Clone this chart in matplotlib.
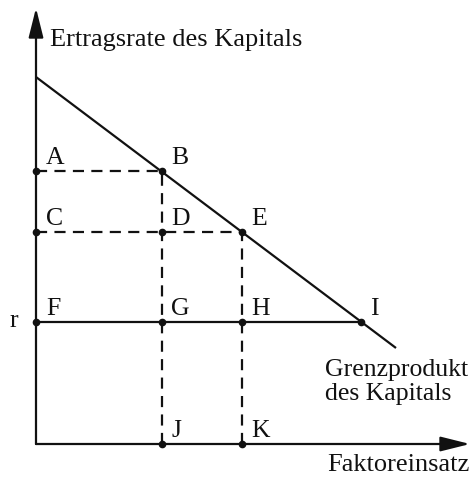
import numpy as np
import matplotlib as mpl
mpl.use('Agg')
import matplotlib.pyplot as plt

#%% Daten (Einheiten: Achsenabstand in Pixeln des Originals)
mpk_x = [0, 360]          # Grenzprodukt des Kapitals, Anfang/Ende
mpk_y = [367, 96]
niveau_A = 273            # Ertragsrate bei A/B
niveau_C = 212            # Ertragsrate bei C/D/E
niveau_r = 122            # Zinssatz r
x_J = 126                 # Faktoreinsatz bei J
x_K = 206                 # Faktoreinsatz bei K
x_I = 325

punkte_x = [0, x_J, 0, x_J, x_K, 0, x_J, x_K, x_I, x_J, x_K]
punkte_y = [niveau_A, niveau_A, niveau_C, niveau_C, niveau_C,
            niveau_r, niveau_r, niveau_r, niveau_r, 0, 0]
namen = ['A', 'B', 'C', 'D', 'E', 'F', 'G', 'H', 'I', 'J', 'K']

#%% Grafik
mpl.rcParams['font.family'] = 'Liberation Serif'
fig = plt.figure(figsize=(4.71, 4.78), dpi=100)
ax = fig.add_axes([0, 0, 1, 1])
ax.set_xlim(-36, 435)
ax.set_ylim(-34, 444)
ax.axis('off')

lw = 1.6
fs = 18.5
schwarz = '#111111'

# Achsen mit Pfeilen
pfeil = dict(arrowstyle='-|>,head_length=1.8,head_width=0.45',
             mutation_scale=10, color=schwarz, lw=lw, shrinkA=0, shrinkB=0)
ax.annotate('', xy=(0, 436), xytext=(0, 0), arrowprops=pfeil)
ax.annotate('', xy=(434, 0), xytext=(0, 0), arrowprops=pfeil)

# Grenzprodukt
ax.plot(mpk_x, mpk_y, color=schwarz, lw=lw, solid_capstyle='butt')

# gestrichelte Hilfslinien
strich = dict(color=schwarz, lw=lw, ls=(0, (5, 3.3)))
ax.plot([0, x_J], [niveau_A, niveau_A], **strich)
ax.plot([x_J, x_J], [0, niveau_A], **strich)
ax.plot([0, x_K], [niveau_C, niveau_C], **strich)
ax.plot([x_K, x_K], [0, niveau_C], **strich)

# Linie r
ax.plot([0, x_I], [niveau_r, niveau_r], color=schwarz, lw=lw)

# Punkte
ax.plot(punkte_x, punkte_y, 'o', color=schwarz, ms=4.5)

# Beschriftungen
for px, py, n in zip(punkte_x, punkte_y, namen):
    dx = 10 if px == 0 else 9
    ax.text(px + dx, py + 7, n, fontsize=fs, color=schwarz, ha='left', va='baseline')

ax.text(-26, niveau_r - 5, 'r', fontsize=fs, color=schwarz, ha='left', va='baseline')
ax.text(14, 398, 'Ertragsrate des Kapitals', fontsize=19, color=schwarz,
        ha='left', va='baseline')
ax.text(289, 68, 'Grenzprodukt', fontsize=fs, color=schwarz,
        ha='left', va='baseline')
ax.text(289, 44, 'des Kapitals', fontsize=fs, color=schwarz,
        ha='left', va='baseline')
ax.text(434, -27, 'Faktoreinsatz', fontsize=19, color=schwarz,
        ha='right', va='baseline')

fig.savefig('out.png', dpi=100)
